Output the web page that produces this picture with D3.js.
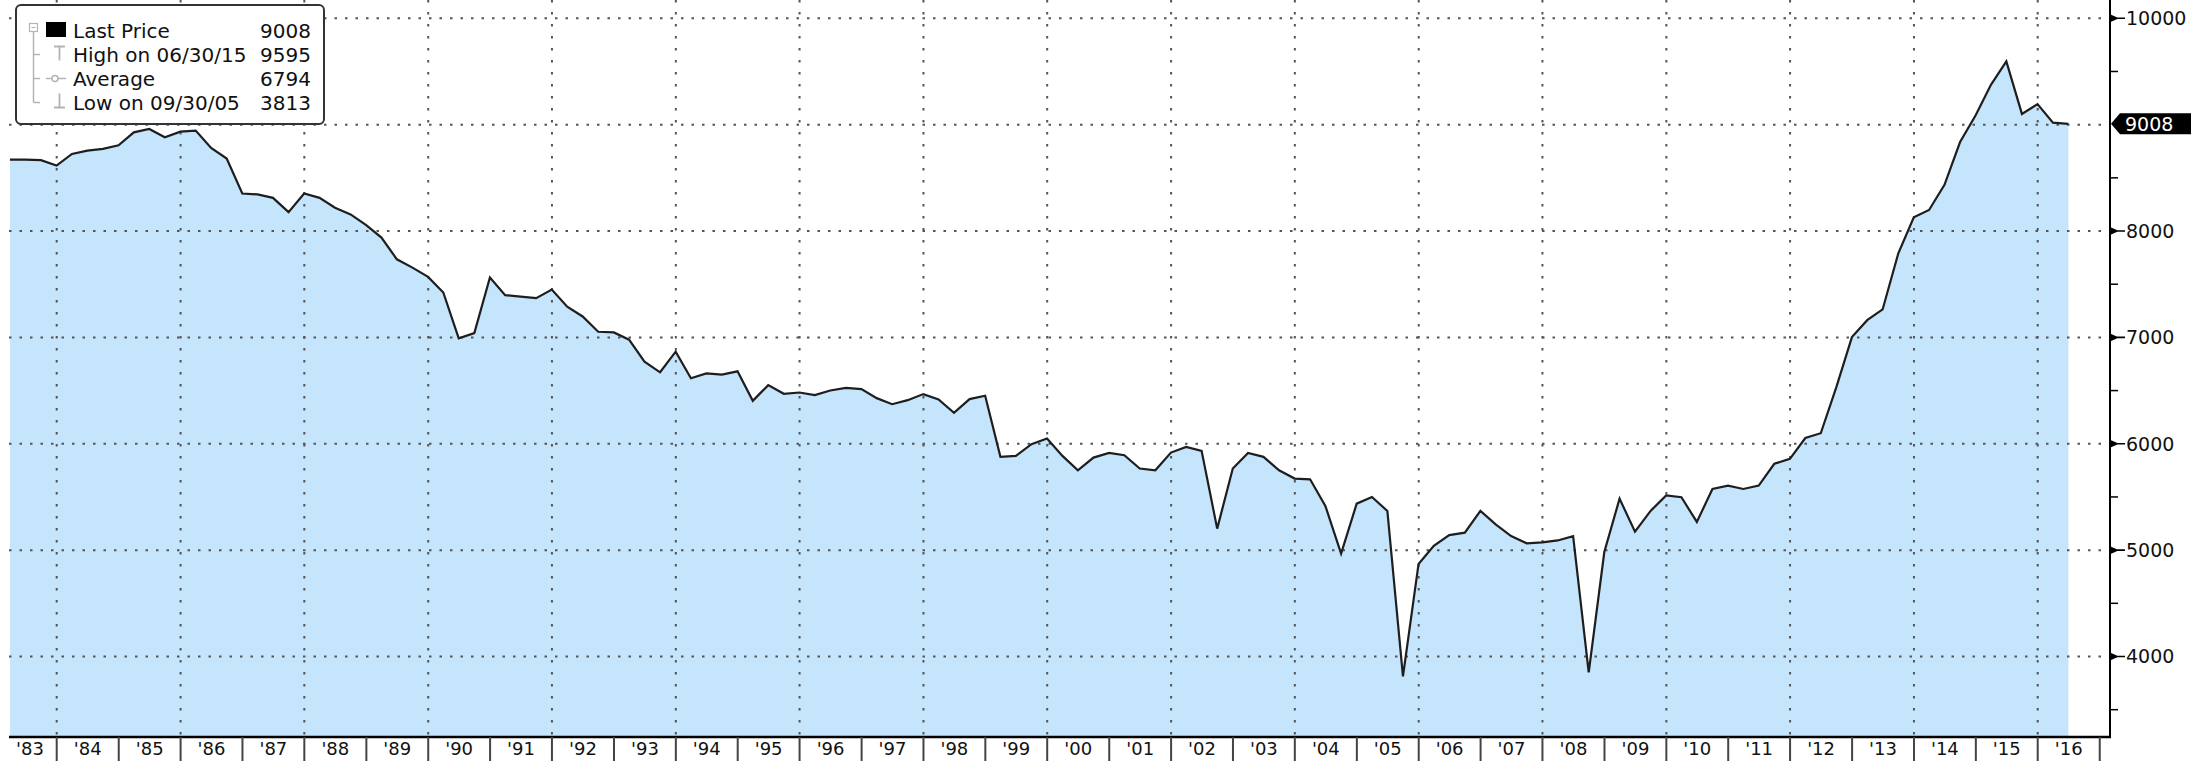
<!DOCTYPE html>
<html>
<head>
<meta charset="utf-8">
<script src="https://cdn.jsdelivr.net/npm/d3@7"></script>
<style>
body { margin: 0; background: #fff; }
svg { display: block; font-family: "DejaVu Sans", Verdana, sans-serif; }
</style>
</head>
<body>
<script>

const width = 2199, height = 761;
const plot = {left: 9, right: 2110, top: 0, bottom: 737};

// quarter-end closes, Q1 1983 .. Q2 2016
const firstYear = 1983;
const quarterEnds = ["03-31", "06-30", "09-30", "12-31"];
const values = [
  8672, 8672, 8666, 8616,   // 1983
  8725, 8756, 8772, 8806,   // 1984
  8928, 8959, 8881, 8934,   // 1985
  8944, 8781, 8681, 8353,   // 1986
  8344, 8312, 8178, 8353,   // 1987
  8312, 8219, 8156, 8056,   // 1988
  7938, 7734, 7656, 7569,   // 1989
  7422, 6991, 7041, 7563,   // 1990
  7397, 7384, 7369, 7450,   // 1991
  7288, 7197, 7053, 7047,   // 1992
  6978, 6772, 6672, 6866,   // 1993
  6616, 6662, 6650, 6681,   // 1994
  6404, 6551, 6470, 6482,   // 1995
  6457, 6501, 6526, 6514,   // 1996
  6429, 6372, 6410, 6467,   // 1997
  6416, 6291, 6420, 6451,   // 1998
  5877, 5886, 5996, 6049,   // 1999
  5886, 5751, 5870, 5914,   // 2000
  5892, 5767, 5751, 5917,   // 2001
  5971, 5933, 5202, 5767,   // 2002
  5914, 5877, 5751, 5673,   // 2003
  5666, 5412, 4967, 5437,   // 2004
  5500, 5368, 3813, 4870,   // 2005
  5040, 5141, 5164, 5369,   // 2006
  5242, 5132, 5064, 5073,   // 2007
  5091, 5132, 3850, 4982,   // 2008
  5484, 5173, 5369, 5515,   // 2009
  5497, 5265, 5575, 5607,   // 2010
  5575, 5607, 5812, 5858,   // 2011
  6054, 6099, 6533, 7003,   // 2012
  7162, 7263, 7787, 8130,   // 2013
  8198, 8435, 8837, 9088,   // 2014
  9375, 9595, 9101, 9193,   // 2015
  9019, 9008                // 2016
];

const yTicks = [4000, 5000, 6000, 7000, 8000, 9000, 10000];
const yMinorTicks = [3500, 4500, 5500, 6500, 7500, 8500, 9500];
const gridYears = [1984, 1986, 1988, 1990, 1992, 1994, 1996, 1998, 2000,
                   2002, 2004, 2006, 2008, 2010, 2012, 2014, 2016];
const yearLabels = ["'83","'84","'85","'86","'87","'88","'89","'90","'91","'92",
                    "'93","'94","'95","'96","'97","'98","'99","'00","'01","'02",
                    "'03","'04","'05","'06","'07","'08","'09","'10","'11","'12",
                    "'13","'14","'15","'16"];
const legendNames = ["Last Price", "High on 06/30/15", "Average", "Low on 09/30/05"];
const legendValues = ["9008", "9595", "6794", "3813"];
const lastPrice = 9008;

const parseDate = d3.timeParse("%Y-%m-%d");
const data = values.map((v, i) => ({
  date: parseDate((firstYear + Math.floor(i / 4)) + "-" + quarterEnds[i % 4]),
  value: v
}));

const svg = d3.select("body").append("svg")
  .attr("width", width)
  .attr("height", height);

const x = d3.scaleTime()
  .domain([new Date(1984, 0, 1), new Date(2016, 0, 1)])
  .range([56.7, 2037.7]);

const y = d3.scaleLinear()
  .domain([4000, 10000])
  .range([656.5, 18.3]);

// area + line
const area = d3.area()
  .x(d => x(d.date))
  .y0(plot.bottom)
  .y1(d => y(d.value));

svg.append("path")
  .datum(data)
  .attr("d", area)
  .attr("fill", "#c5e5fd");

// dotted grid
svg.append("g")
  .selectAll("line")
  .data(yTicks)
  .join("line")
  .attr("x1", plot.left)
  .attr("x2", plot.right)
  .attr("y1", d => y(d))
  .attr("y2", d => y(d))
  .attr("stroke", "#555")
  .attr("stroke-width", 2)
  .attr("stroke-dasharray", "2.5,8");

svg.append("g")
  .selectAll("line")
  .data(gridYears)
  .join("line")
  .attr("x1", d => x(new Date(d, 0, 1)))
  .attr("x2", d => x(new Date(d, 0, 1)))
  .attr("y1", plot.top)
  .attr("y2", plot.bottom)
  .attr("stroke", "#555")
  .attr("stroke-width", 2)
  .attr("stroke-dasharray", "2.5,9.5");

const line = d3.line()
  .x(d => x(d.date))
  .y(d => y(d.value));

svg.append("path")
  .datum(data)
  .attr("d", line)
  .attr("fill", "none")
  .attr("stroke", "#1e1e1e")
  .attr("stroke-width", 2.2);

// frame: right axis + bottom axis
svg.append("line")
  .attr("x1", plot.right).attr("x2", plot.right)
  .attr("y1", plot.top).attr("y2", plot.bottom + 1)
  .attr("stroke", "#000").attr("stroke-width", 2);

svg.append("line")
  .attr("x1", plot.left).attr("x2", plot.right + 1)
  .attr("y1", plot.bottom).attr("y2", plot.bottom)
  .attr("stroke", "#000").attr("stroke-width", 2.5);

// right axis ticks
const yAxis = svg.append("g");

yAxis.selectAll("line.minor")
  .data(yMinorTicks)
  .join("line")
  .attr("class", "minor")
  .attr("x1", plot.right)
  .attr("x2", plot.right + 8)
  .attr("y1", d => y(d))
  .attr("y2", d => y(d))
  .attr("stroke", "#000")
  .attr("stroke-width", 1.5);

const majors = yTicks.filter(d => d !== 9000);

yAxis.selectAll("path.major")
  .data(majors)
  .join("path")
  .attr("class", "major")
  .attr("d", d => {
    const ty = y(d);
    return `M${plot.right},${ty - 4}L${plot.right + 9},${ty}L${plot.right},${ty + 4}Z`
         + `M${plot.right},${ty - 0.8}H${plot.right + 15}V${ty + 0.8}H${plot.right}Z`;
  })
  .attr("fill", "#000");

yAxis.selectAll("text")
  .data(majors)
  .join("text")
  .attr("x", plot.right + 16)
  .attr("y", d => y(d))
  .attr("dy", "0.36em")
  .attr("font-size", 19)
  .attr("fill", "#111")
  .text(d => d);

// last price marker
const ly = y(lastPrice);
svg.append("path")
  .attr("d", `M${plot.right + 1},${ly}L${plot.right + 10},${ly - 10.5}H2191V${ly + 10.5}H${plot.right + 10}Z`)
  .attr("fill", "#000");

svg.append("text")
  .attr("x", plot.right + 15)
  .attr("y", ly)
  .attr("dy", "0.36em")
  .attr("font-size", 19)
  .attr("fill", "#fff")
  .text(lastPrice);

// bottom year labels with separators
const years = d3.range(firstYear, firstYear + yearLabels.length);

svg.append("g")
  .selectAll("line")
  .data(years.slice(1).concat([firstYear + yearLabels.length]))
  .join("line")
  .attr("x1", d => x(new Date(d, 0, 1)))
  .attr("x2", d => x(new Date(d, 0, 1)))
  .attr("y1", plot.bottom)
  .attr("y2", height)
  .attr("stroke", "#444")
  .attr("stroke-width", 2);

svg.append("g")
  .selectAll("text")
  .data(years)
  .join("text")
  .attr("x", d => Math.max(30, (x(new Date(d, 0, 1)) + x(new Date(d + 1, 0, 1))) / 2))
  .attr("y", 755)
  .attr("text-anchor", "middle")
  .attr("font-size", 18)
  .attr("fill", "#111")
  .text((d, i) => yearLabels[i]);

// legend
const legend = svg.append("g");

legend.append("rect")
  .attr("x", 16).attr("y", 5)
  .attr("width", 308).attr("height", 119)
  .attr("rx", 5)
  .attr("fill", "#fff")
  .attr("stroke", "#333")
  .attr("stroke-width", 2);

const grey = "#b4b4b4";
const rowY = (i) => 37.5 + i * 24;

// tree lines
legend.append("rect")
  .attr("x", 29.5).attr("y", 23.5).attr("width", 8).attr("height", 8)
  .attr("fill", "none").attr("stroke", grey).attr("stroke-width", 1.2);
legend.append("line")
  .attr("x1", 31.5).attr("x2", 35.5).attr("y1", 27.5).attr("y2", 27.5)
  .attr("stroke", grey).attr("stroke-width", 1.2);
legend.append("line")
  .attr("x1", 33.5).attr("x2", 33.5).attr("y1", 31.5).attr("y2", rowY(3) - 7)
  .attr("stroke", grey).attr("stroke-width", 1.5);
legend.selectAll("line.branch")
  .data([1, 2, 3])
  .join("line")
  .attr("class", "branch")
  .attr("x1", 33.5).attr("x2", 40)
  .attr("y1", i => rowY(i) - 7).attr("y2", i => rowY(i) - 7)
  .attr("stroke", grey).attr("stroke-width", 1.5);

// icons
legend.append("rect")
  .attr("x", 46).attr("y", 22).attr("width", 20).attr("height", 15)
  .attr("fill", "#000");

legend.append("path")
  .attr("d", `M54,${rowY(1) - 15}H65M59.5,${rowY(1) - 15}V${rowY(1) - 1}`)
  .attr("stroke", grey).attr("stroke-width", 1.8).attr("fill", "none");

legend.append("path")
  .attr("d", `M46,${rowY(2) - 7}H66`)
  .attr("stroke", grey).attr("stroke-width", 1.5);
legend.append("circle")
  .attr("cx", 55).attr("cy", rowY(2) - 7).attr("r", 3)
  .attr("fill", "#fff").attr("stroke", grey).attr("stroke-width", 1.5);

legend.append("path")
  .attr("d", `M59.5,${rowY(3) - 16}V${rowY(3) - 2}M54,${rowY(3) - 2}H65`)
  .attr("stroke", grey).attr("stroke-width", 1.8).attr("fill", "none");

legend.selectAll("text.name")
  .data(legendNames)
  .join("text")
  .attr("class", "name")
  .attr("x", 73)
  .attr("y", (d, i) => rowY(i))
  .attr("font-size", 20)
  .attr("fill", "#111")
  .text(d => d);

legend.selectAll("text.val")
  .data(legendValues)
  .join("text")
  .attr("class", "val")
  .attr("x", 311)
  .attr("y", (d, i) => rowY(i))
  .attr("text-anchor", "end")
  .attr("font-size", 20)
  .attr("fill", "#111")
  .text(d => d);

</script>
</body>
</html>
